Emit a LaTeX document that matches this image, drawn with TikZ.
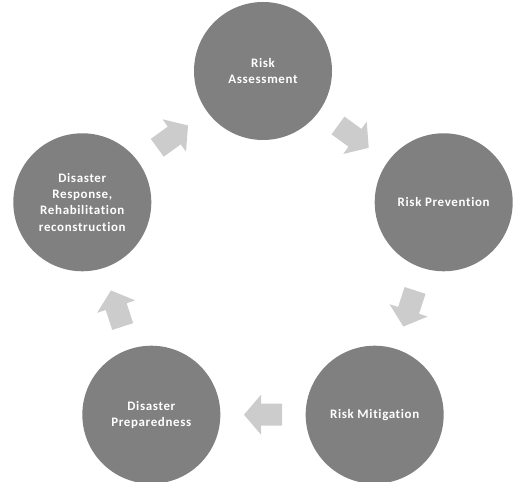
\documentclass[tikz,border=0pt]{standalone}
\usepackage{fontspec}
\newfontfamily\lblfont[LetterSpace=5,Ligatures=NoCommon]{Carlito}
\usetikzlibrary{calc}
\begin{document}
\begin{tikzpicture}[x=1bp,y=1bp,
  stage/.style={circle, fill=black!50, minimum size=138bp, inner sep=0pt,
    align=center, text=white,
    font=\lblfont\bfseries\fontsize{13}{16.5}\selectfont},
  barrow/.pic={\fill[black!20] (19,0) -- (2,20) -- (2,11) -- (-19,11)
    -- (-19,-11) -- (2,-11) -- (2,-20) -- cycle;}
]
\useasboundingbox (0,0) rectangle (524,482);
\coordinate (C) at (263,221);
\node[stage] (ra) at ([shift={(90:190)}]C) {Risk\\Assessment};
\node[stage] (rp) at ([shift={(18:190)}]C) {Risk Prevention};
\node[stage] (rm) at ([shift={(-54:190)}]C) {Risk Mitigation};
\node[stage] (dp) at ([shift={(-126:190)}]C) {Disaster\\Preparedness};
\node[stage] (dr) at ([shift={(162:190)}]C) {Disaster\\Response,\\Rehabilitation\\reconstruction};
\path ($(ra)!0.5!(rp)$) pic[rotate=-36] {barrow};
\path ($(rp)!0.5!(rm)$) pic[rotate=-108] {barrow};
\path ($(rm)!0.5!(dp)$) pic[rotate=180] {barrow};
\path ($(dp)!0.5!(dr)$) pic[rotate=108] {barrow};
\path ($(dr)!0.5!(ra)$) pic[rotate=36] {barrow};
\end{tikzpicture}
\end{document}
